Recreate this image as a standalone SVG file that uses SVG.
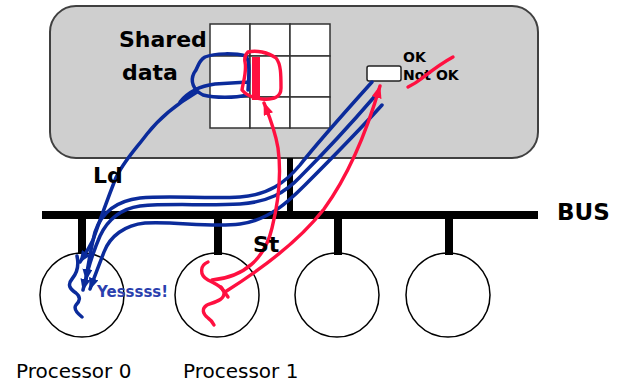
<svg xmlns="http://www.w3.org/2000/svg" width="621" height="385" viewBox="0 0 621 385">
  <style>
    .lbl { font-family: "DejaVu Sans", "Liberation Sans", sans-serif; fill: #000; }
    .bold { font-weight: bold; }
    .cell { fill: #fff; stroke: #333; stroke-width: 1.5; }
    .cpu { fill: #fff; stroke: #000; stroke-width: 1.5; }
    .bus { fill: #000; }
    .ld { fill: none; stroke: #0b2b9b; stroke-width: 3.5; stroke-linecap: round; stroke-linejoin: round; }
    .st { fill: none; stroke: #ff1040; stroke-width: 3.4; stroke-linecap: round; stroke-linejoin: round; }
  </style>
  <defs>
    <marker id="arrowBlue" viewBox="0 0 12 10" refX="11" refY="5" markerWidth="12" markerHeight="10" markerUnits="userSpaceOnUse" orient="auto">
      <path d="M0,0 L12,5 L0,10 z" fill="#0b2b9b"/>
    </marker>
    <marker id="arrowRed" viewBox="0 0 13 10" refX="12" refY="5" markerWidth="13" markerHeight="10" markerUnits="userSpaceOnUse" orient="auto">
      <path d="M0,0 L13,5 L0,10 z" fill="#ff1040"/>
    </marker>
  </defs>

  <!-- shared memory -->
  <g id="memory">
    <rect x="50" y="6" width="488" height="152" rx="26" ry="26" fill="#cfcfcf" stroke="#404040" stroke-width="2"/>
    <g id="shared-data">
      <rect class="cell" x="210" y="24" width="40" height="32"/>
      <rect class="cell" x="250" y="24" width="40" height="32"/>
      <rect class="cell" x="290" y="24" width="40" height="32"/>
      <rect class="cell" x="210" y="56" width="40" height="41"/>
      <rect class="cell" x="250" y="56" width="40" height="41"/>
      <rect class="cell" x="290" y="56" width="40" height="41"/>
      <rect class="cell" x="210" y="97" width="40" height="31"/>
      <rect class="cell" x="250" y="97" width="40" height="31"/>
      <rect class="cell" x="290" y="97" width="40" height="31"/>
    </g>
    <text class="lbl bold" x="119" y="47" font-size="22">Shared</text>
    <text class="lbl bold" x="122" y="80" font-size="22">data</text>
    <g id="flag">
      <rect x="367" y="66" width="34" height="15" rx="2" fill="#fff" stroke="#222" stroke-width="1.5"/>
      <text class="lbl bold" x="403" y="62" font-size="14">OK</text>
      <text class="lbl bold" x="403" y="80" font-size="14">Not OK</text>
    </g>
    <!-- marks on the data block and the flag -->
    <path class="ld" d="M180,102 C188,92 200,86 215,84 L248,82 M248,90 C249,75 250,62 246,56 C235,53 215,53 205,57 C197,62 199,67 194,73 C190,81 193,90 203,95 C215,98 235,98 247,95"/>
    <path class="st" d="M248,52 C256,50 268,52 276,58 C281,64 281,75 281,88 C281,97 274,100 262,99 C252,98 246,95 242,90 C243,82 247,72 245,62 C244,57 246,54 248,52"/>
    <rect x="252" y="57" width="8" height="43" fill="#ff1040"/>
    <path class="st" d="M408,87 C412,85 416,83 421,79 C430,72 440,64 453,57"/>
  </g>

  <!-- processors -->
  <g id="proc0">
    <circle class="cpu" cx="82" cy="295" r="42"/>
    <text class="lbl" x="16" y="378" font-size="20">Processor 0</text>
  </g>
  <g id="proc1">
    <circle class="cpu" cx="217" cy="295" r="42"/>
    <text class="lbl" x="183" y="378" font-size="20">Processor 1</text>
  </g>
  <g id="proc2">
    <circle class="cpu" cx="337" cy="295" r="42"/>
  </g>
  <g id="proc3">
    <circle class="cpu" cx="448" cy="295" r="42"/>
  </g>

  <!-- bus and load / store traffic -->
  <g id="connectors">
    <g id="bus">
      <rect class="bus" x="287" y="158" width="6" height="54"/>
      <rect class="bus" x="42" y="211" width="496" height="8"/>
      <rect class="bus" x="78" y="218" width="8" height="36"/>
      <rect class="bus" x="214" y="218" width="8" height="37"/>
      <rect class="bus" x="334" y="218" width="8" height="37"/>
      <rect class="bus" x="445" y="218" width="8" height="37"/>
      <text class="lbl bold" x="557" y="220" font-size="23">BUS</text>
    </g>

    <g id="load">
      <path class="ld" marker-end="url(#arrowBlue)" d="M197,92 C175,105 158,120 147,134 C135,150 122,163 115,180 C108,198 100,220 93,240 C88,250 84,256 80,262"/>
      <path class="ld" marker-end="url(#arrowBlue)" d="M372,82 C345,112 318,142 300,165 C285,183 268,195 240,197 C205,199 170,195 140,198 C115,201 101,214 95,232 C91,248 88,265 86,280"/>
      <path class="ld" marker-end="url(#arrowBlue)" d="M375,96 C350,125 320,157 300,177 C285,193 268,202 240,204 C205,206 170,203 140,206 C120,209 107,221 100,236 C93,252 87,272 83,290"/>
      <path class="ld" marker-end="url(#arrowBlue)" d="M382,105 C355,135 325,165 305,185 C290,200 270,220 240,224 C210,228 175,221 145,223 C125,225 110,236 104,252 C99,265 94,278 90,289"/>
      <path class="ld" d="M77,256 C79,265 78,272 72,279 C67,285 70,289 76,293 C81,297 80,301 76,305 C73,309 77,313 82,317"/>
      <text x="97" y="297" font-family="DejaVu Sans, Liberation Sans, sans-serif" font-weight="bold" font-size="15" fill="#2b3fae">Yesssss!</text>
      <text class="lbl bold" x="93" y="183" font-size="22">Ld</text>
    </g>

    <g id="store">
      <path class="st" d="M208,262 C200,265 199,275 208,280 C215,284 222,286 224,292 C225,300 215,302 207,305 C201,309 203,314 208,318 C211,320 213,323 214,325"/>
      <path class="st" marker-end="url(#arrowRed)" d="M212,280 C245,277 265,258 272,228 C279,200 281,170 278,148 C275,130 270,118 264,103"/>
      <path class="st" marker-end="url(#arrowRed)" d="M225,292 C260,270 300,240 324,209 C348,176 366,134 380,86"/>
      <path class="st" d="M221,287 L228,297"/>
      <text class="lbl bold" x="253" y="252" font-size="22">St</text>
    </g>
  </g>
</svg>
